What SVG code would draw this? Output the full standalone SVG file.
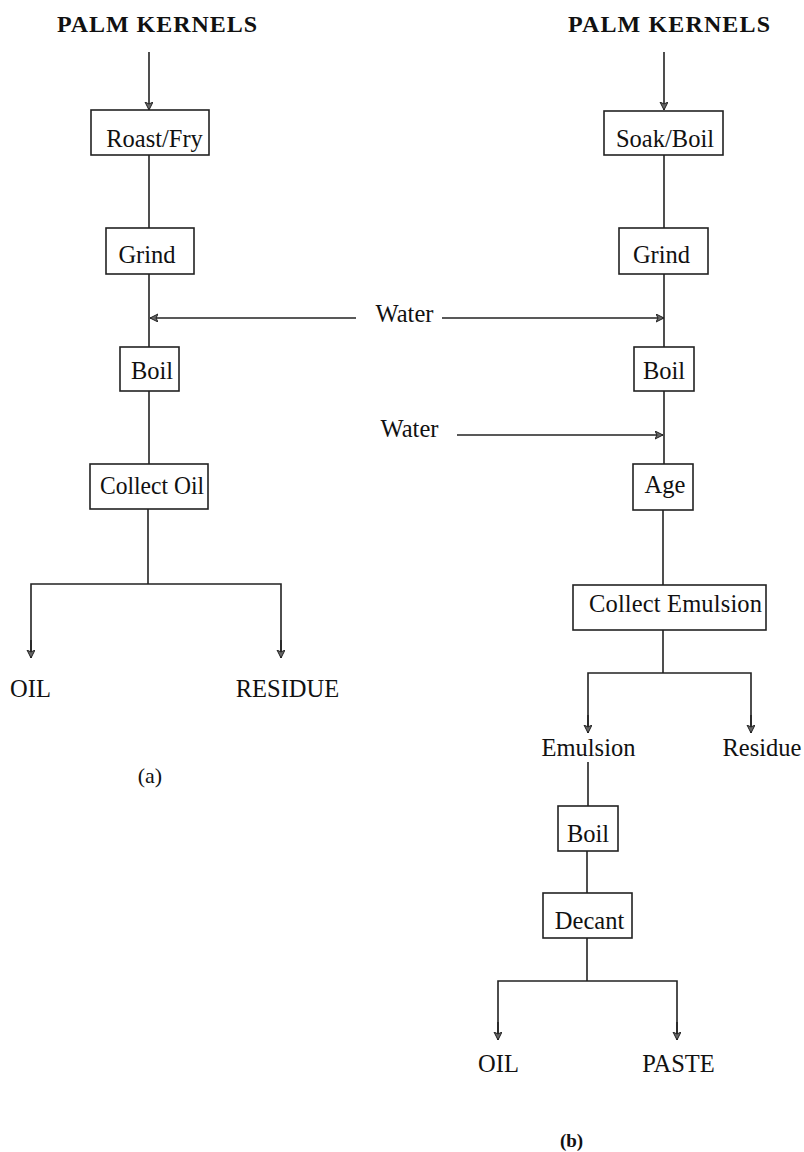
<svg xmlns="http://www.w3.org/2000/svg" width="804" height="1152" viewBox="0 0 804 1152">
<defs>
<style>
text{font-family:"Liberation Serif","Times New Roman",serif;fill:#111;font-size:24.5px;text-anchor:middle}
.title{font-weight:bold;font-size:24px}
.box{fill:#fff;stroke:#222;stroke-width:1.6}
.ln{fill:none;stroke:#222;stroke-width:1.6}
</style>
<marker id="ah" markerWidth="10" markerHeight="10" refX="8" refY="4" orient="auto" markerUnits="userSpaceOnUse">
<path d="M0,0 L8,4 L0,8 L2,4 Z" fill="#666" stroke="#222" stroke-width="1"/>
</marker>
</defs>
<rect width="804" height="1152" fill="#fff"/>
<g id="connectors">
<line class="ln" x1="149" y1="52" x2="149" y2="110" marker-end="url(#ah)"/>
<line class="ln" x1="149" y1="155" x2="149" y2="228"/>
<line class="ln" x1="149" y1="274" x2="149" y2="347"/>
<line class="ln" x1="356" y1="318" x2="150" y2="318" marker-end="url(#ah)"/>
<line class="ln" x1="149" y1="391" x2="149" y2="464"/>
<line class="ln" x1="148" y1="509" x2="148" y2="584"/>
<polyline class="ln" points="31,658 31,584 281,584 281,658"/>
<line class="ln" x1="31" y1="640" x2="31" y2="658" marker-end="url(#ah)"/>
<line class="ln" x1="281" y1="640" x2="281" y2="658" marker-end="url(#ah)"/>
<line class="ln" x1="664" y1="52" x2="664" y2="110" marker-end="url(#ah)"/>
<line class="ln" x1="664" y1="155" x2="664" y2="228"/>
<line class="ln" x1="664" y1="274" x2="664" y2="347"/>
<line class="ln" x1="442" y1="318" x2="664" y2="318" marker-end="url(#ah)"/>
<line class="ln" x1="664" y1="391" x2="664" y2="464"/>
<line class="ln" x1="457" y1="435" x2="663" y2="435" marker-end="url(#ah)"/>
<line class="ln" x1="663" y1="510" x2="663" y2="585"/>
<line class="ln" x1="663" y1="630" x2="663" y2="673"/>
<polyline class="ln" points="588,733 588,673 751,673 751,733"/>
<line class="ln" x1="588" y1="715" x2="588" y2="733" marker-end="url(#ah)"/>
<line class="ln" x1="751" y1="715" x2="751" y2="733" marker-end="url(#ah)"/>
<line class="ln" x1="588" y1="762" x2="588" y2="806"/>
<line class="ln" x1="587" y1="851" x2="587" y2="893"/>
<line class="ln" x1="587" y1="938" x2="587" y2="981"/>
<polyline class="ln" points="498,1040 498,981 677,981 677,1040"/>
<line class="ln" x1="498" y1="1022" x2="498" y2="1040" marker-end="url(#ah)"/>
<line class="ln" x1="677" y1="1022" x2="677" y2="1040" marker-end="url(#ah)"/>
</g>
<g id="title-a"><text class="title" x="157" y="32" textLength="200" lengthAdjust="spacing">PALM  KERNELS</text></g>
<g id="roast"><rect class="box" x="91" y="110" width="118" height="45"/><text x="154.5" y="147">Roast/Fry</text></g>
<g id="grind-a"><rect class="box" x="106" y="228" width="88" height="46"/><text x="147" y="263">Grind</text></g>
<g id="water-1"><text x="404.5" y="322">Water</text></g>
<g id="boil-a"><rect class="box" x="120" y="347" width="59" height="44"/><text x="152" y="379">Boil</text></g>
<g id="collect-oil"><rect class="box" x="90" y="464" width="118" height="45"/><text x="152" y="494" textLength="104" lengthAdjust="spacingAndGlyphs">Collect Oil</text></g>
<g id="oil-a"><text x="30.5" y="697">OIL</text></g>
<g id="residue-a"><text x="287.5" y="697">RESIDUE</text></g>
<g id="label-a"><text x="150" y="783" style="font-size:22px">(a)</text></g>
<g id="title-b"><text class="title" x="669" y="32" textLength="202" lengthAdjust="spacing">PALM  KERNELS</text></g>
<g id="soak"><rect class="box" x="604" y="111" width="119" height="44"/><text x="665" y="147">Soak/Boil</text></g>
<g id="grind-b"><rect class="box" x="619" y="228" width="89" height="46"/><text x="661.5" y="263">Grind</text></g>
<g id="boil-b"><rect class="box" x="634" y="347" width="60" height="44"/><text x="664" y="379">Boil</text></g>
<g id="water-2"><text x="409.5" y="437">Water</text></g>
<g id="age"><rect class="box" x="633" y="464" width="60" height="46"/><text x="665" y="493">Age</text></g>
<g id="collect-emulsion"><rect class="box" x="573" y="585" width="193" height="45"/><text x="675.5" y="612" textLength="173" lengthAdjust="spacing">Collect  Emulsion</text></g>
<g id="emulsion"><text x="588.5" y="756">Emulsion</text></g>
<g id="residue-b"><text x="762" y="756">Residue</text></g>
<g id="boil-c"><rect class="box" x="558" y="806" width="60" height="45"/><text x="588" y="842">Boil</text></g>
<g id="decant"><rect class="box" x="543" y="893" width="89" height="45"/><text x="589.5" y="929">Decant</text></g>
<g id="oil-b"><text x="498.5" y="1072">OIL</text></g>
<g id="paste"><text x="678.5" y="1072">PASTE</text></g>
<g id="label-b"><text x="571.5" y="1147" style="font-size:19px;font-weight:bold">(b)</text></g>
</svg>
